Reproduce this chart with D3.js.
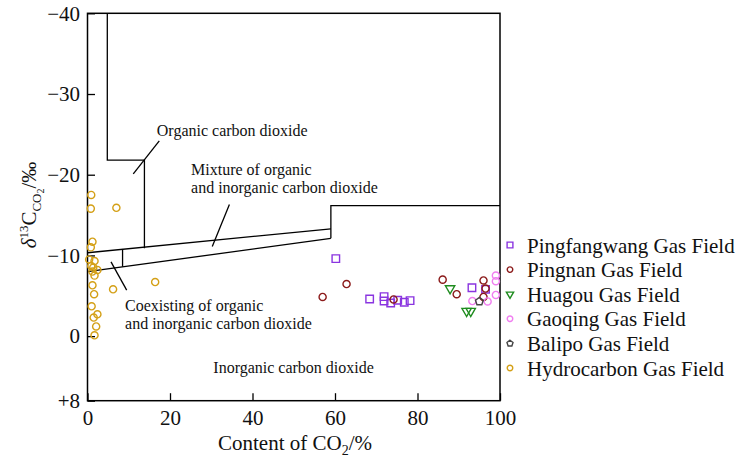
<!DOCTYPE html>
<html>
<head>
<meta charset="utf-8">
<script src="https://cdn.jsdelivr.net/npm/d3@7"></script>
<style>
  html, body { margin: 0; padding: 0; background: #fff; }
  svg { display: block; font-family: "Liberation Serif", "Times New Roman", serif; }
</style>
</head>
<body>
<svg id="chart" width="740" height="457"></svg>
<script>
// CO2 content (%) vs. δ13C of CO2 (‰) for gas fields
const fieldNames = [
  "Pingfangwang Gas Field",
  "Pingnan Gas Field",
  "Huagou Gas Field",
  "Gaoqing Gas Field",
  "Balipo Gas Field",
  "Hydrocarbon Gas Field"
];
const fieldColors = ["#8a35e0", "#8b1a1a", "#1f8c1f", "#f07ef0", "#444444", "#d4a017"];
const fieldShapes = ["square", "circle", "triangleDown", "circle", "pentagon", "circle"];

// [CO2 content %, δ13C ‰]
const pingfangwang = [[60.2, -9.6], [68.4, -4.6], [71.9, -4.9], [71.9, -4.35], [73.5, -4.1],
                      [75.2, -4.45], [76.8, -4.2], [78.2, -4.4], [93.2, -6.0], [96.5, -5.8]];
const pingnan = [[57.0, -4.85], [62.8, -6.45], [74.2, -4.55], [86.1, -7.0], [89.5, -5.2],
                 [96.0, -6.9], [96.5, -5.9], [96.0, -4.85]];
const huagou = [[87.9, -5.9], [91.9, -3.1], [92.9, -3.1]];
const gaoqing = [[99.0, -7.5], [99.0, -6.8], [99.0, -5.1], [93.3, -4.35], [97.0, -4.3]];
const balipo = [[95.0, -4.3]];
const hydrocarbon = [[0.9, -17.5], [0.8, -15.8], [7.0, -15.9], [1.2, -11.7], [0.8, -11.0],
                     [0.4, -9.5], [1.7, -9.3], [0.9, -8.7], [1.4, -8.5], [2.4, -8.2],
                     [1.2, -8.0], [1.7, -7.5], [1.2, -6.3], [6.2, -5.8], [1.6, -5.2],
                     [1.0, -3.7], [2.4, -2.7], [1.5, -2.3], [2.1, -1.2], [1.7, -0.1],
                     [16.4, -6.7]];
const seriesData = [pingfangwang, pingnan, huagou, gaoqing, balipo, hydrocarbon];

// axis ticks
const xTicks = [0, 20, 40, 60, 80, 100];
const yTicks = [-40, -30, -20, -10, 0, 8];
const yTickLabels = ["\u221240", "\u221230", "\u221220", "\u221210", "0", "+8"];

// genetic classification boundaries (data units)
const organicBoundary = [[4.8, -40], [4.8, -21.8], [13.8, -21.8], [13.8, -10.9]];
const mixtureUpper = [[0, -10.33], [59, -13.3]];
const mixtureLower = [[0, -7.98], [59, -12.12]];
const inorganicBoundary = [[59, -12.12], [59, -16.16], [100, -16.16]];
const coexistDivider = [[8.5, -10.8], [8.5, -8.6]];
const leaderLines = [
  [[17.4, -24.2], [11.1, -20.1]],
  [[34.4, -16.3], [30.25, -11.1]],
  [[5.7, -9.2], [9.5, -5.7]]
];
const regionLabels = [
  { x: 16.8, y: -24.8, lines: ["Organic carbon dioxide"] },
  { x: 25.1, y: -20.0, lines: ["Mixture of organic", "and inorganic carbon dioxide"] },
  { x: 9.1, y: -3.15, lines: ["Coexisting of organic", "and inorganic carbon dioxide"] },
  { x: 30.5, y: 4.55, lines: ["Inorganic carbon dioxide"] }
];

const svg = d3.select("#chart");
const margin = { left: 87.5, right: 240, top: 13.3, bottom: 56.3 };
const W = 740, H = 457;

const x = d3.scaleLinear().domain([0, 100]).range([margin.left, W - margin.right]);
const y = d3.scaleLinear().domain([-40, 8]).range([margin.top, H - margin.bottom]);

// axes with inward ticks
const gx = svg.append("g")
  .attr("transform", `translate(0,${y(8)})`)
  .call(d3.axisBottom(x).tickValues(xTicks).tickSizeInner(-7.5).tickSizeOuter(0).tickPadding(9));
const gy = svg.append("g")
  .attr("transform", `translate(${x(0)},0)`)
  .call(d3.axisLeft(y).tickValues(yTicks).tickFormat((d, i) => yTickLabels[i])
        .tickSizeInner(-7.5).tickSizeOuter(0).tickPadding(7.5));
[gx, gy].forEach(g => {
  g.select(".domain").remove();
  g.selectAll("line").attr("stroke", "#000").attr("stroke-width", 1.3);
  g.selectAll("text").attr("font-family", "Liberation Serif").attr("font-size", 21).attr("fill", "#111");
});

// plot frame
svg.append("rect")
  .attr("x", x(0)).attr("y", y(-40))
  .attr("width", x(100) - x(0)).attr("height", y(8) - y(-40))
  .attr("fill", "none").attr("stroke", "#000").attr("stroke-width", 1.5);

// boundary lines
const line = d3.line().x(d => x(d[0])).y(d => y(d[1]));
[organicBoundary, mixtureUpper, mixtureLower, inorganicBoundary, coexistDivider, ...leaderLines]
  .forEach(p => svg.append("path").attr("d", line(p))
    .attr("fill", "none").attr("stroke", "#000").attr("stroke-width", 1.3));

// region labels
regionLabels.forEach(l => {
  const t = svg.append("text")
    .attr("x", x(l.x)).attr("y", y(l.y))
    .attr("font-size", 16).attr("fill", "#111");
  l.lines.forEach((s, i) => t.append("tspan")
    .attr("x", x(l.x)).attr("dy", i === 0 ? 0 : 18).text(s));
});

// marker shapes
const pentagon = {
  draw(ctx, size) {
    const r = Math.sqrt(size / 2.378);
    for (let k = 0; k < 5; k++) {
      const a = -Math.PI / 2 + k * 2 * Math.PI / 5;
      if (k === 0) ctx.moveTo(r * Math.cos(a), r * Math.sin(a));
      else ctx.lineTo(r * Math.cos(a), r * Math.sin(a));
    }
    ctx.closePath();
  }
};
function symbolPath(shape, scale) {
  if (shape === "square") return d3.symbol(d3.symbolSquare, 56 * scale)();
  if (shape === "triangleDown") return d3.symbol(d3.symbolTriangle, 38 * scale)();
  if (shape === "pentagon") return d3.symbol(pentagon, 40 * scale)();
  return d3.symbol(d3.symbolCircle, 40 * scale)();
}

// scatter points
seriesData.forEach((pts, i) => {
  const path = symbolPath(fieldShapes[i], 1);
  const rot = fieldShapes[i] === "triangleDown" ? " rotate(180)" : "";
  svg.append("g").selectAll("path").data(pts).join("path")
    .attr("d", path)
    .attr("transform", d => `translate(${x(d[0])},${y(d[1])})${rot}`)
    .attr("fill", "none").attr("stroke", fieldColors[i]).attr("stroke-width", 1.4);
});

// legend
const legend = svg.append("g").attr("transform", "translate(510,245)");
fieldNames.forEach((name, i) => {
  const row = legend.append("g").attr("transform", `translate(0,${i * 24.6})`);
  const rot = fieldShapes[i] === "triangleDown" ? " rotate(180)" : "";
  row.append("path").attr("d", symbolPath(fieldShapes[i], 0.6))
    .attr("transform", "translate(0,0)" + rot)
    .attr("fill", "none").attr("stroke", fieldColors[i]).attr("stroke-width", 1.4);
  row.append("text").attr("x", 17).attr("y", 7.5)
    .attr("font-size", 21).attr("fill", "#111").text(name);
});

// x axis title
const xt = svg.append("text")
  .attr("x", 295).attr("y", 450)
  .attr("text-anchor", "middle").attr("font-size", 21).attr("fill", "#111");
xt.append("tspan").text("Content of CO");
xt.append("tspan").attr("font-size", 14).attr("dy", 5).text("2");
xt.append("tspan").attr("dy", -5).text("/%");

// y axis title
const yt = svg.append("text")
  .attr("transform", "translate(36,205) rotate(-90)")
  .attr("text-anchor", "middle").attr("font-size", 21).attr("fill", "#111");
yt.append("tspan").attr("font-style", "italic").text("\u03b4");
yt.append("tspan").attr("font-size", 13).attr("dy", -8).text("13");
yt.append("tspan").attr("dy", 8).text("C");
yt.append("tspan").attr("font-size", 13).attr("dy", 5).text("CO");
yt.append("tspan").attr("font-size", 10).attr("dy", 3).text("2");
yt.append("tspan").attr("dy", -8).text("/\u2030");
</script>
</body>
</html>
